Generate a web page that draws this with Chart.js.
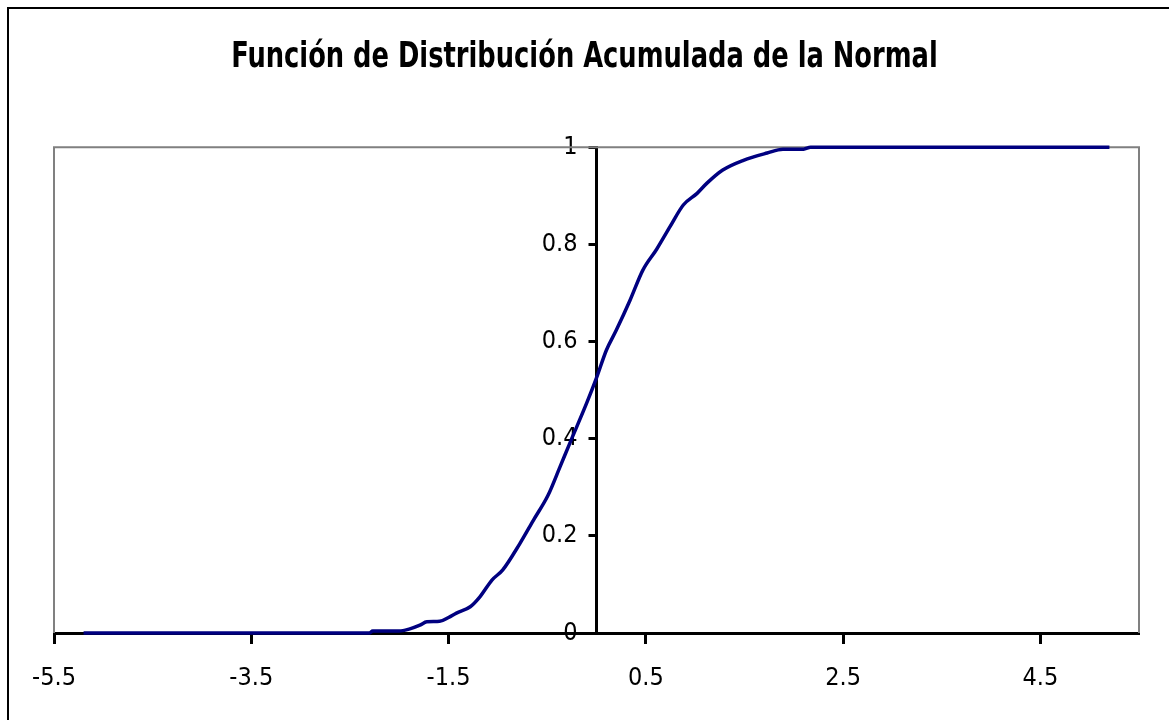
<!DOCTYPE html>
<html>
<head>
<meta charset="utf-8">
<script src="https://cdn.jsdelivr.net/npm/chart.js@4/dist/chart.umd.min.js"></script>
<style>
  html, body { margin: 0; padding: 0; background: #fff; }
</style>
</head>
<body>
<canvas id="myChart" width="1169" height="720"></canvas>
<script>
const titulo = 'Función de Distribución Acumulada de la Normal'

// valores
const valoresX = [-5.2, -2.3, -2.27, -2.0, -1.9, -1.79, -1.72, -1.59, -1.5, -1.42, -1.28, -1.18, -1.06, -0.95, -0.78, -0.64, -0.49, -0.37, -0.27, -0.1, 0, 0.1, 0.2, 0.34, 0.47, 0.61, 0.75, 0.88, 1.02, 1.12, 1.28, 1.49, 1.73, 1.89, 2.1, 2.17, 5.2]
const valoresY = [0, 0, 0.004, 0.004, 0.008, 0.016, 0.023, 0.024, 0.032, 0.041, 0.054, 0.075, 0.109, 0.13, 0.183, 0.232, 0.284, 0.342, 0.391, 0.473, 0.525, 0.582, 0.623, 0.685, 0.747, 0.79, 0.838, 0.881, 0.905, 0.926, 0.953, 0.973, 0.988, 0.996, 0.996, 1.0, 1.0]

const ticksX = [-5.5, -3.5, -1.5, 0.5, 2.5, 4.5]
const ticksY = [0, 0.2, 0.4, 0.6, 0.8, 1]

const fuente = 'DejaVu Sans Condensed, DejaVu Sans, sans-serif'

const puntos = valoresX.map((x, i) => ({ x: x, y: valoresY[i] }))

const marco = {
    id: 'marco',
    afterLayout: (chart) => {
        // el eje y cruza en x = 0
        const y = chart.scales.y
        const x0 = chart.scales.x.getPixelForValue(0)
        y.right = x0
        y.left = x0 - 90

        // título más estrecho, como en el original
        const t = chart.titleBlock
        if (t && !t._estrecho) {
            const dibujar = t.draw.bind(t)
            t.draw = (area) => {
                const c = chart.ctx
                const centro = (t.left + t.right) / 2
                c.save()
                c.translate(chart.width / 2, 0)
                c.scale(0.795, 1)
                c.translate(-centro, 0)
                dibujar(area)
                c.restore()
            }
            t._estrecho = true
        }
    },
    beforeDraw: (chart) => {
        const { ctx } = chart
        ctx.save()
        ctx.fillStyle = '#ffffff'
        ctx.fillRect(0, 0, chart.width, chart.height)
        ctx.strokeStyle = '#000000'
        ctx.lineWidth = 2
        ctx.strokeRect(8, 8, chart.width + 20, chart.height + 20)
        ctx.restore()
    },
    beforeDatasetsDraw: (chart) => {
        const { ctx, chartArea: a } = chart
        ctx.save()
        ctx.strokeStyle = '#808080'
        ctx.lineWidth = 2
        ctx.beginPath()
        ctx.moveTo(a.left, a.bottom)
        ctx.lineTo(a.left, a.top)
        ctx.lineTo(a.right, a.top)
        ctx.lineTo(a.right, a.bottom)
        ctx.stroke()
        ctx.restore()
    }
}

const config = {
    type: 'line',
    data: {
        datasets: [{
            data: puntos,
            borderColor: '#000080',
            borderWidth: 3.5,
            pointRadius: 0,
            tension: 0.3,
            cubicInterpolationMode: 'monotone',
            clip: 6,
        }]
    },
    plugins: [marco],
    options: {
        responsive: false,
        animation: false,
        layout: { padding: { left: 54, right: 30, top: 0, bottom: 0 } },
        scales: {
            x: {
                type: 'linear',
                position: 'bottom',
                min: -5.5,
                max: 5.5,
                afterBuildTicks: (s) => { s.ticks = ticksX.map(v => ({ value: v })) },
                afterFit: (s) => { s.height = 87 },
                border: { color: '#000000', width: 3 },
                grid: { drawOnChartArea: false, color: '#000000', tickLength: 11, tickWidth: 3 },
                ticks: {
                    color: '#000000',
                    padding: 19,
                    maxRotation: 0,
                    font: { family: fuente, size: 25 },
                    callback: (v) => String(v)
                }
            },
            y: {
                type: 'linear',
                position: 'left',
                min: 0,
                max: 1,
                afterBuildTicks: (s) => { s.ticks = ticksY.map(v => ({ value: v })) },
                afterFit: (s) => { s.width = 0 },
                border: { color: '#000000', width: 3 },
                grid: { drawOnChartArea: false, color: '#000000', tickLength: 8, tickWidth: 3 },
                ticks: {
                    color: '#000000',
                    padding: 11,
                    font: { family: fuente, size: 25 },
                    callback: (v) => String(v)
                }
            }
        },
        plugins: {
            legend: { display: false },
            tooltip: { enabled: false },
            title: {
                display: true,
                text: titulo,
                color: '#000000',
                font: { family: fuente, size: 36, weight: 'bold' },
                padding: { top: 36, bottom: 68 }
            }
        }
    }
}

const ctx = document.querySelector('#myChart').getContext('2d')
const myChart = new Chart(ctx, config)
</script>
</body>
</html>
